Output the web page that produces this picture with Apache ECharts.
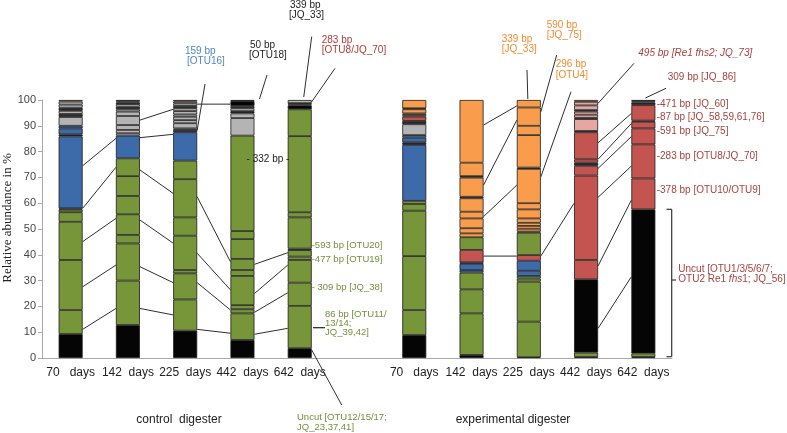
<!DOCTYPE html>
<html><head><meta charset="utf-8">
<script src="https://cdn.jsdelivr.net/npm/echarts@6/dist/echarts.min.js"></script>
<style>html,body{margin:0;padding:0;background:#fff}#c{width:787px;height:433px}</style>
</head><body><div id="c"></div>
<script>
// ---------- DATA ----------
const categories = ['70   days','142  days','225  days','442  days','642  days','','70   days','142  days','225  days','442  days','642  days'];
// each bar: [upper boundary in %, fragment group]  (U uncut, G green, B blue, S grey, D dark band, O orange, R red, P pink)
const control70  = [[9.3,'U'],[18.6,'G'],[38,'G'],[52.8,'G'],[56.5,'G'],[57.5,'G'],[58,'D'],[85.9,'B'],[86.7,'D'],[89,'B'],[90,'B'],[93.4,'S'],[94.6,'D'],[95.8,'S'],[97,'D'],[98.2,'S'],[99.4,'S'],[100,'O']];
const control142 = [[12.8,'U'],[30,'G'],[44.4,'G'],[47.7,'G'],[55.7,'G'],[62.8,'G'],[70.5,'G'],[77.4,'G'],[86.2,'B'],[87.1,'S'],[88.4,'S'],[90.3,'S'],[93.8,'S'],[95.5,'S'],[96.4,'S'],[97.4,'D'],[98.4,'S'],[99,'D'],[99.4,'S'],[100,'D']];
const control225 = [[10.6,'U'],[22.7,'G'],[32.8,'G'],[34.1,'G'],[47.4,'G'],[54.5,'G'],[69.3,'G'],[76.5,'G'],[87.5,'B'],[88.4,'D'],[89,'S'],[91,'S'],[92.2,'S'],[93.5,'S'],[94.4,'S'],[95.7,'S'],[96.8,'S'],[97.7,'D'],[98.7,'S'],[99.4,'S'],[100,'R']];
const control442 = [[7,'U'],[17.3,'G'],[18.9,'G'],[20.5,'G'],[31.8,'G'],[34.1,'G'],[38.4,'G'],[46.1,'G'],[49.2,'G'],[86.2,'G'],[93,'S'],[94.8,'S'],[95.7,'D'],[96.8,'S'],[97.7,'D'],[99.6,'U'],[100,'R']];
const control642 = [[3.8,'U'],[20.2,'G'],[29.2,'G'],[38,'G'],[39.3,'G'],[41.8,'G'],[42.4,'D'],[54.5,'G'],[56.5,'G'],[86,'G'],[96.4,'G'],[97.9,'U'],[98.3,'S'],[98.8,'R'],[100,'S']];
const gapBar = [];
const exp70  = [[8.9,'U'],[18.6,'G'],[39.5,'G'],[57.1,'G'],[59.7,'G'],[60.9,'G'],[82.6,'B'],[83.6,'D'],[85.4,'B'],[86.4,'B'],[90.6,'S'],[91.9,'D'],[93.5,'R'],[94.2,'O'],[94.8,'O'],[96.4,'O'],[96.8,'D'],[100,'O']];
const exp142 = [[1.2,'U'],[17.3,'G'],[26.6,'G'],[33.1,'G'],[34.1,'B'],[36.5,'B'],[37.1,'D'],[41.9,'R'],[46.8,'G'],[48.3,'O'],[50.3,'O'],[54.1,'O'],[56.7,'O'],[61.9,'O'],[62.5,'D'],[69.9,'O'],[70.5,'D'],[75.7,'O'],[100,'O']];
const exp225 = [[0.3,'U'],[14.1,'G'],[29.6,'G'],[30.8,'G'],[31.8,'G'],[33.8,'B'],[37.7,'B'],[39.9,'R'],[48.6,'G'],[49,'O'],[50.1,'O'],[51.2,'O'],[52.4,'O'],[54.1,'O'],[57.6,'O'],[60,'O'],[73.3,'O'],[73.8,'D'],[86.4,'O'],[90,'O'],[97.1,'O'],[100,'O']];
const exp442 = [[0.4,'U'],[2.1,'G'],[30.5,'U'],[38,'R'],[70.7,'R'],[74.5,'R'],[75.7,'D'],[77,'R'],[87.5,'R'],[88,'D'],[92.6,'P'],[93.1,'D'],[94.3,'P'],[95.5,'P'],[96.1,'D'],[97.9,'P'],[99.3,'P'],[100,'O']];
const exp642 = [[0.4,'U'],[1.8,'G'],[57.6,'U'],[69.6,'R'],[82.8,'R'],[89,'R'],[91.6,'R'],[92,'D'],[98,'R'],[99,'D'],[99.5,'R'],[100,'D']];
// fragment links between neighbouring bars: [fromCategory, from %, toCategory, to %]
const links = [
 [0,74.5,1,85.1],[0,58,1,73.9],[0,45.1,1,54.1],[0,27.6,1,36],[0,11.1,1,19.2],
 [1,92.2,2,96.4],[1,85.4,2,86.7],[1,72.9,2,63.8],[1,53.5,2,44.5],[1,35.4,2,29.2],[1,19.2,2,16.7],
 [2,62.5,3,37.3],[2,40.6,3,26.4],[2,29.2,3,18.6],[2,11.1,3,9.6],[2,98.4,3,98.4],
 [3,36.3,4,40.8],[3,25,4,36],[3,17.7,4,25.3],[3,9.2,4,11.5],
 [7,90.3,8,97.7],[7,67,8,92.2],[7,54.8,8,67],[7,39.5,8,39.5],[8,39.5,9,60],
 [9,83.4,10,94.8],[9,77,10,90.9],[9,73.5,10,85.8],[9,62.3,10,74.4],[9,35.7,10,61.2],[9,11.5,10,31.5]
];
const bars = [control70,control142,control225,control442,control642,gapBar,exp70,exp142,exp225,exp442,exp642];

// ---------- STYLE ----------
const COLORS = {U:'#050505',G:'#779639',B:'#3d6aa8',S:'#b4b4b4',D:'#2a2a2a',O:'#f99d4c',R:'#c4544f',P:'#e6a7a2'};
const BAR_W = 24;
const FONT = '"Liberation Sans", Arial, sans-serif';
const C_GREEN = '#72903a', C_BLUE = '#4d84cc', C_ORANGE = '#f28a2e', C_RED = '#a5433f';

const maxSeg = Math.max(...bars.map(b => b.length));
const series = [];
for (let j = 0; j < maxSeg; j++) {
  series.push({
    type: 'bar', stack: 'all', barWidth: BAR_W, silent: true,
    itemStyle: { borderColor: '#1c1c1c', borderWidth: 0.8 },
    data: bars.map(b => {
      if (j >= b.length) return '-';
      const prev = j === 0 ? 0 : b[j - 1][0];
      return { value: +(b[j][0] - prev).toFixed(2), itemStyle: { color: COLORS[b[j][1]] } };
    })
  });
}
series.push({
  type: 'custom', z: 5, silent: true, coordinateSystem: 'cartesian2d',
  encode: { x: [0, 2], y: [1, 3] }, data: links,
  renderItem(params, api) {
    const a = api.coord([api.value(0), api.value(1)]);
    const b = api.coord([api.value(2), api.value(3)]);
    return { type: 'line', shape: { x1: a[0] + BAR_W / 2, y1: a[1], x2: b[0] - BAR_W / 2, y2: b[1] },
      style: { stroke: '#2e2e2e', lineWidth: 1 } };
  }
});

const chart = echarts.init(document.getElementById('c'), null, { renderer: 'canvas' });
chart.setOption({
  animation: false,
  grid: { left: 42, right: 115, top: 100, bottom: 75 },
  xAxis: {
    type: 'category', data: categories,
    axisLine: { lineStyle: { color: '#a8a8a8' } },
    axisTick: { length: 4, lineStyle: { color: '#a8a8a8' } },
    axisLabel: { interval: 0, fontSize: 12, color: '#222', margin: 9, fontFamily: FONT }
  },
  yAxis: {
    type: 'value', min: 0, max: 100, interval: 10,
    splitLine: { show: false },
    axisLine: { show: true, lineStyle: { color: '#a8a8a8' } },
    axisTick: { show: true, length: 4, lineStyle: { color: '#a8a8a8' } },
    axisLabel: { fontSize: 11, color: '#444', margin: 6, fontFamily: FONT }
  },
  series
});

// ---------- ANNOTATIONS ----------
function px(cat, val) { return chart.convertToPixel({ xAxisIndex: 0, yAxisIndex: 0 }, [cat, val]); }
function anchor(cat, val, side, dx, dy) {
  const p = px(cat, val);
  const off = side === 'r' ? BAR_W / 2 : side === 'l' ? -BAR_W / 2 : 0;
  return [p[0] + off + (dx || 0), p[1] + (dy || 0)];
}
const g = [];
function txt(x, y, text, color, opts) {
  opts = opts || {};
  g.push({ type: 'text', x, y, z: 10, style: Object.assign({
    text, fill: color, font: (opts.italic ? 'italic ' : '') + (opts.size || 10) + 'px ' + FONT,
    textAlign: opts.align || 'left', textVerticalAlign: 'middle'
  }, opts.rich ? { rich: opts.rich } : {}) });
}
function line(x1, y1, x2, y2, color, w) {
  g.push({ type: 'line', z: 9, shape: { x1, y1, x2, y2 }, style: { stroke: color || '#2e2e2e', lineWidth: w || 1 } });
}
function leader(from, to) { line(from[0], from[1], to[0], to[1]); }

// y axis title
g.push({ type: 'text', x: 8, y: 218, rotation: Math.PI / 2, z: 10, style: {
  text: 'Relative abundance in %', fill: '#222', font: '13px "Liberation Serif", "Times New Roman", serif',
  textAlign: 'center', textVerticalAlign: 'middle' } });
txt(179, 420, 'control  digester', '#222', { size: 12, align: 'center' });
txt(513, 420, 'experimental digester', '#222', { size: 12, align: 'center' });

// control digester labels
txt(185, 51.7, '159 bp', C_BLUE); txt(187, 61.7, '[OTU16]', C_BLUE);
leader([205, 84], anchor(2, 88.2, 'r'));
txt(250, 45, '50 bp', '#222'); txt(249, 55, '[OTU18]', '#222');
leader([267, 75], anchor(3, 100, 'r', 5, -1));
txt(290, 5.7, '339 bp', '#222'); txt(289, 15, '[JQ_33]', '#222');
leader([311.7, 36.7], anchor(4, 100, 'c', 4, -3));
txt(321.7, 40, '283 bp', '#b03c38'); txt(321.7, 50, '[OTU8/JQ_70]', '#b03c38');
leader([335, 68.3], anchor(4, 99.3, 'r'));
txt(268, 159, '- 332 bp -', '#222', { align: 'center' });
txt(311.7, 245.3, '-593 bp [OTU20]', C_GREEN, { size: 9.5 });
txt(311.7, 259.3, '-477 bp [OTU19]', C_GREEN, { size: 9.5 });
txt(311.7, 287, '- 309 bp [JQ_38]', C_GREEN, { size: 9.5 });
txt(325, 314, '86 bp [OTU11/', C_GREEN, { size: 9.5 });
txt(325, 323.3, '13/14;', C_GREEN, { size: 9.5 });
txt(325, 332.3, 'JQ_39,42]', C_GREEN, { size: 9.5 });
line(313, 327.7, 325, 327.7, '#222', 1.2);
txt(297, 417, 'Uncut [OTU12/15/17;', C_GREEN, { size: 9.5 });
txt(297, 427.3, 'JQ_23,37,41]', C_GREEN, { size: 9.5 });
leader([341.7, 405], anchor(4, 3.1, 'r'));

// experimental digester labels
txt(501.7, 39.3, '339 bp', C_ORANGE); txt(501.7, 49.3, '[JQ_33]', C_ORANGE);
leader([527, 70], anchor(8, 100, 'c', -1, -1));
txt(546.7, 25.7, '590 bp', C_ORANGE); txt(546.7, 35.7, '[JQ_75]', C_ORANGE);
leader([556.7, 55], anchor(8, 95.4, 'r'));
txt(555.7, 64.3, '296 bp', C_ORANGE); txt(555.7, 75, '[OTU4]', C_ORANGE);
leader([571, 91.7], anchor(8, 70.2, 'r'));
txt(638.3, 53.3, '495 bp [Re1 fhs2; JQ_73]', C_RED, { italic: true });
leader([634, 63.3], anchor(9, 98.7, 'r'));
txt(667.7, 77.7, '309 bp [JQ_86]', C_RED);
leader([666, 88.3], anchor(10, 100, 'c', 2, -2));
txt(656.7, 104.3, '-471 bp [JQ_60]', C_RED);
txt(656.7, 117.7, '-87 bp [JQ_58,59,61,76]', C_RED);
txt(656.7, 131, '-591 bp [JQ_75]', C_RED);
txt(656.7, 156.7, '-283 bp [OTU8/JQ_70]', C_RED);
txt(656.7, 190, '-378 bp [OTU10/OTU9]', C_RED);
// bracket for uncut
line(671.7, 209.3, 671.7, 356.7, '#333', 1.2);
line(666.5, 209.3, 671.7, 209.3, '#333', 1.2);
line(666.5, 356.7, 671.7, 356.7, '#333', 1.2);
line(671.7, 280, 676, 280, '#333', 1.2);
txt(678.3, 269.3, 'Uncut [OTU1/3/5/6/7;', C_RED);
txt(678.3, 279.3, 'OTU2 Re1 {i|fhs}1; JQ_56]', C_RED, { rich: { i: { fontStyle: 'italic', fill: C_RED, fontSize: 10, fontFamily: FONT } } });

chart.setOption({ graphic: { elements: g } });
</script>
</body></html>
